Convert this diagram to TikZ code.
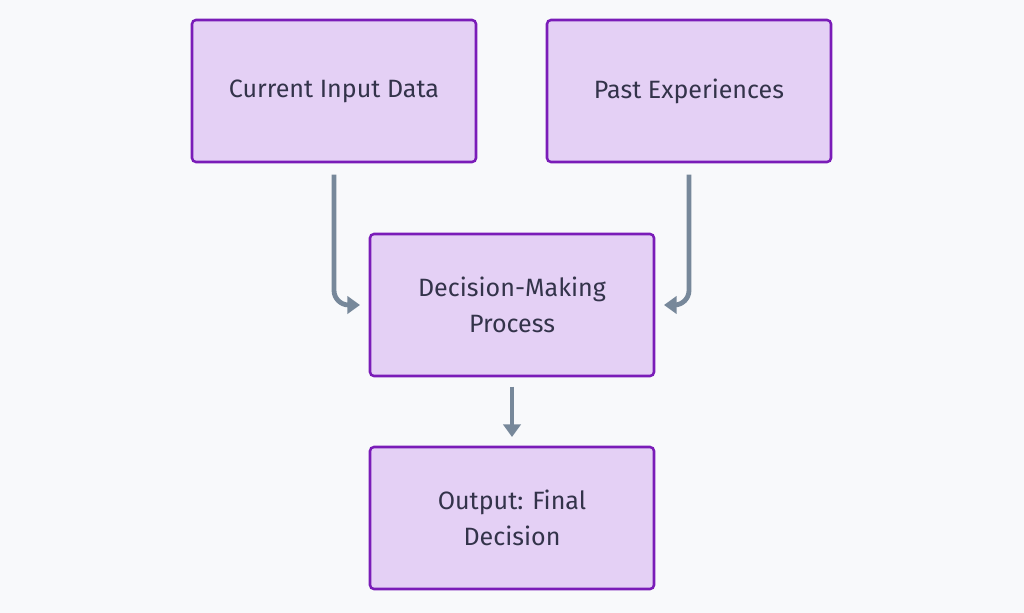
\documentclass[tikz,border=0pt]{standalone}
\usepackage{fontspec}
\setmainfont{Fira Sans}
\usetikzlibrary{positioning,arrows.meta}
\definecolor{bgcol}{HTML}{F8F9FB}
\definecolor{boxfill}{HTML}{E4D0F5}
\definecolor{boxline}{HTML}{7A1CB8}
\definecolor{txtcol}{HTML}{33334A}
\definecolor{arrowcol}{HTML}{77889A}

\begin{document}
\begin{tikzpicture}[x=0.75pt, y=-0.75pt]
    % Styles
    \tikzstyle{block} = [rectangle, rounded corners=3pt, minimum width=213pt, minimum height=106.5pt,
                         inner sep=0pt, outer sep=0pt, align=center, draw=boxline, line width=1.9pt,
                         fill=boxfill, text=txtcol, font=\fontsize{18.8}{26.5}\selectfont]
    \tikzstyle{arrow} = [draw=arrowcol, line width=3.6pt, -{Triangle[width=13pt,length=9.5pt]},
                         rounded corners=11pt]

    % Background
    \fill[bgcol] (0,0) rectangle (1024,613);
    \useasboundingbox (0,0) rectangle (1024,613);

    % Nodes
    \node (current) [block] at (334,91) {Current Input Data};
    \node (past) [block] at (689,91) {Past Experiences};
    \node (decide) [block] at (512,305) {Decision-Making\\Process};
    \node (output) [block] at (512,518) {Output: Final\\ Decision};

    % Arrows
    \draw [arrow, shorten <=9.5pt, shorten >=7.5pt] (current.south) |- (decide.west);
    \draw [arrow, shorten <=9.5pt, shorten >=7.5pt] (past.south) |- (decide.east);
    \draw [arrow, shorten <=8pt, shorten >=7.5pt] (decide) -- (output);

\end{tikzpicture}
\end{document}
